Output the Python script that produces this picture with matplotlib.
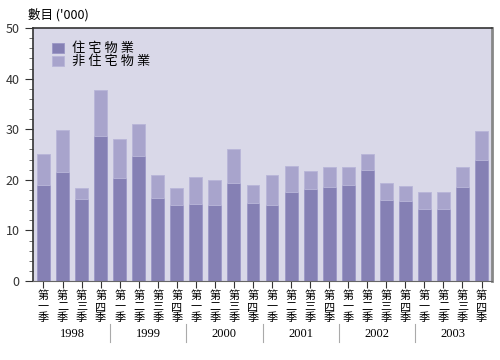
import numpy as np
import matplotlib.pyplot as plt
from matplotlib.ticker import MultipleLocator

plt.rcParams['font.family'] = ['Noto Sans CJK TC', 'DejaVu Sans']

years = ['1998', '1999', '2000', '2001', '2002', '2003']
quarters = ['第\n一\n季', '第\n二\n季', '第\n三\n季', '第\n四\n季']

# residential and total, thousand units
residential = [18.9, 21.5, 16.2, 28.7,
               20.4, 24.8, 16.4, 15.0,
               15.3, 15.1, 19.3, 15.5,
               15.0, 17.6, 18.1, 18.6,
               18.9, 21.9, 16.0, 15.8,
               14.2, 14.2, 18.6, 24.0]
total = [25.1, 29.8, 18.4, 37.7,
         28.1, 31.0, 20.9, 18.3,
         20.5, 20.0, 26.1, 18.9,
         20.9, 22.7, 21.8, 22.5,
         22.5, 25.2, 19.4, 18.7,
         17.6, 17.5, 22.5, 29.6]
non_residential = [t - r for t, r in zip(total, residential)]

labels = quarters * len(years)
x = np.arange(len(labels))

fig = plt.figure(figsize=(5, 3.6), dpi=100)
ax = fig.add_axes([0.066, 0.2194, 0.918, 0.7026])
ax.set_facecolor('#d9d8e8')

dark = '#8580b4'
light = '#a8a4cc'
ax.bar(x, residential, width=0.68, color=dark, edgecolor='#9b97c6', linewidth=0.6,
       label='住 宅 物 業')
ax.bar(x, non_residential, width=0.68, bottom=residential, color=light,
       edgecolor='#b8b5d8', linewidth=0.6, label='非 住 宅 物 業')

ax.set_xlim(-0.55, len(labels) - 0.45)
ax.set_ylim(0, 50)
ax.yaxis.set_major_locator(MultipleLocator(10))
ax.yaxis.set_minor_locator(MultipleLocator(2))
ax.tick_params(axis='y', which='major', length=6, labelsize=9, colors='#333333')
ax.tick_params(axis='y', which='minor', length=3, color='#555555')
ax.set_xticks(x)
ax.set_xticklabels(labels, fontsize=8, linespacing=1.05)
ax.tick_params(axis='x', length=5, pad=2, color='#333333')

for s in ['left', 'top']:
    ax.spines[s].set_color('#333333')
    ax.spines[s].set_linewidth(1.2)
ax.spines['bottom'].set_color('#666666')
ax.spines['right'].set_color('#888888')
ax.spines['right'].set_linewidth(2)

ax.text(-0.01, 1.025, "數目 ('000)", transform=ax.transAxes, fontsize=9,
        ha='left', va='bottom')

trans = ax.get_xaxis_transform()
for i, yr in enumerate(years):
    ax.text(4 * i + 1.5, -0.21, yr, transform=trans, ha='center', va='center',
            fontsize=9, family=['Liberation Serif', 'DejaVu Serif'])
    if i > 0:
        ax.plot([4 * i - 0.5, 4 * i - 0.5], [-0.17, -0.24], transform=trans,
                color='#aaaaaa', linewidth=0.8, clip_on=False)

leg = ax.legend(loc='upper left', bbox_to_anchor=(0.025, 0.975), frameon=False,
                fontsize=9.5, handlelength=0.9, handleheight=0.75, handletextpad=0.6,
                labelspacing=0.0, borderaxespad=0.2)

fig.savefig('out.png', dpi=100)
